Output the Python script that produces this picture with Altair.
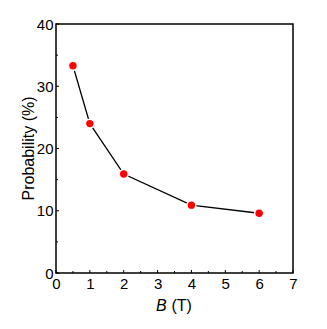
import altair as alt
import pandas as pd

B = [0.5, 1, 2, 4, 6]
P = [33.3, 24.0, 15.9, 10.9, 9.6]

x_major = [0, 1, 2, 3, 4, 5, 6, 7]
x_minor = [0.5, 1.5, 2.5, 3.5, 4.5, 5.5, 6.5]
y_major = [0, 10, 20, 30, 40]
y_minor = [5, 15, 25, 35]

W, H = 237, 249
FONT = "Liberation Sans"

df = pd.DataFrame({"B": B, "P": P})
xs = alt.Scale(domain=[0, 7], nice=False, zero=False)
ys = alt.Scale(domain=[0, 40], nice=False, zero=False)

xaxis = alt.Axis(values=x_major, ticks=False, domain=False, grid=False,
                 labelFont=FONT, labelFontSize=15, labelColor="black",
                 labelPadding=3, title=None, labelFlush=False, labelOverlap=False,
                 format="d")
yaxis = alt.Axis(values=y_major, ticks=False, domain=False, grid=False,
                 labelFont=FONT, labelFontSize=15, labelColor="black",
                 labelPadding=3, title="Probability (%)", titleFont=FONT,
                 titleFontSize=16, titleFontWeight="normal", titleColor="black",
                 titleX=-22.5, titleY=124, titleBaseline="alphabetic",
                 titleAlign="center", titleAngle=270,
                 labelFlush=False, labelOverlap=False, format="d")


def X(f):
    return alt.X(f, scale=xs, axis=xaxis, title=None)


def Y(f):
    return alt.Y(f, scale=ys, axis=yaxis, title="Probability (%)")


base = alt.Chart(df)

line = base.mark_line(color="black", strokeWidth=1.3).encode(x=X("B:Q"), y=Y("P:Q"))
pts = base.mark_point(filled=True, color="#ff0000", size=55, opacity=1,
                      stroke="white", strokeWidth=3).encode(x=X("B:Q"), y=Y("P:Q"))
pts2 = base.mark_point(filled=True, color="#ff0000", size=55, opacity=1).encode(
    x=X("B:Q"), y=Y("P:Q"))

xmj = alt.Chart(pd.DataFrame({"v": x_major})).mark_rule(color="black", strokeWidth=1).encode(
    x=X("v:Q"), y=alt.value(H), y2=alt.value(H - 3))
xmn = alt.Chart(pd.DataFrame({"v": x_minor})).mark_rule(color="black", strokeWidth=1).encode(
    x=X("v:Q"), y=alt.value(H), y2=alt.value(H - 2))
ymj = alt.Chart(pd.DataFrame({"v": y_major})).mark_rule(color="black", strokeWidth=1).encode(
    y=Y("v:Q"), x=alt.value(0), x2=alt.value(3))
ymn = alt.Chart(pd.DataFrame({"v": y_minor})).mark_rule(color="black", strokeWidth=1).encode(
    y=Y("v:Q"), x=alt.value(0), x2=alt.value(2))

tB = alt.Chart(pd.DataFrame({"t": ["B"]})).mark_text(
    font=FONT, fontSize=16, fontStyle="italic", align="left", baseline="alphabetic",
    color="black").encode(text="t:N", x=alt.value(100), y=alt.value(287))
tT = alt.Chart(pd.DataFrame({"t": ["(T)"]})).mark_text(
    font=FONT, fontSize=16, align="left", baseline="alphabetic",
    color="black").encode(text="t:N", x=alt.value(115.5), y=alt.value(287))

chart = alt.layer(line, pts, pts2, xmj, xmn, ymj, ymn, tB, tT).properties(
    width=W, height=H,
    padding={"left": 48, "top": 16, "right": 20, "bottom": 50},
    autosize="none",
    background="white",
).configure_view(stroke="black", strokeWidth=1.5, fill="white")

chart.save("out.html", embed_options={"renderer": "svg", "actions": False})
